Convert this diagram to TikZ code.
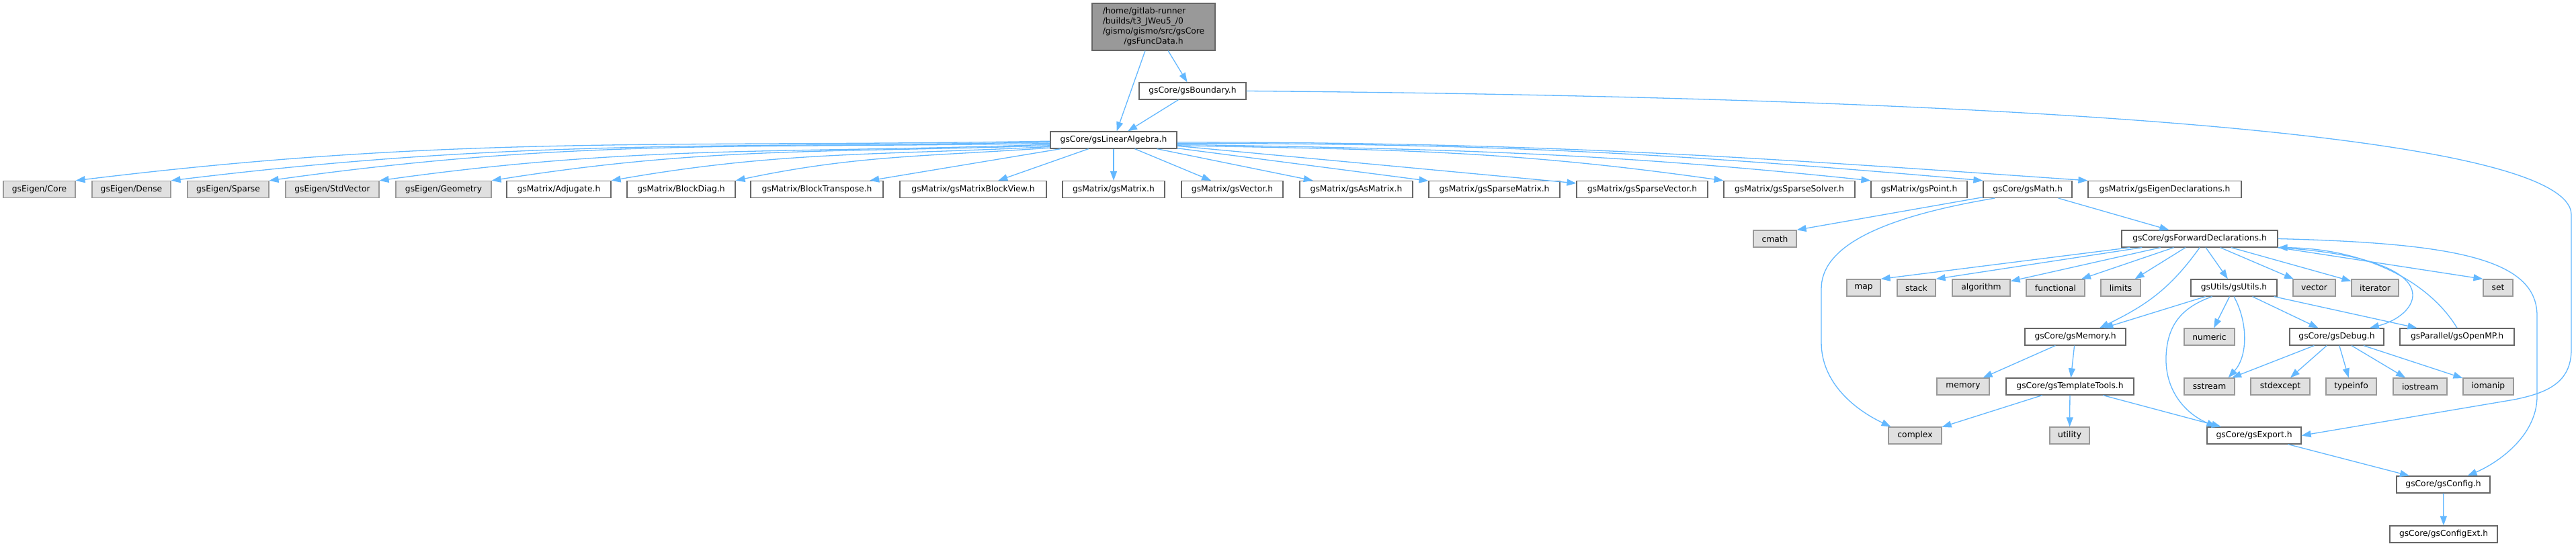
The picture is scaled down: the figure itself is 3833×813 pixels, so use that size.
\documentclass[tikz,border=0pt]{standalone}
\usepackage{fontspec}
\newfontfamily\dejavu{DejaVu Sans}
\usetikzlibrary{arrows.meta}
\definecolor{edgeblue}{HTML}{63B8FF}
\definecolor{boxline}{HTML}{666666}
\definecolor{sysline}{HTML}{999999}
\definecolor{sysfill}{HTML}{E0E0E0}
\definecolor{rootfill}{HTML}{999999}
\newcommand\gfont{\dejavu\fontsize{12.3}{14.8}\selectfont}
\tikzset{
  hdr/.style={draw=boxline, fill=white, line width=1.2pt, inner sep=0pt, minimum height=25pt, font=\gfont},
  sys/.style={hdr, draw=sysline, fill=sysfill},
  inc/.style={draw=edgeblue, line width=1.3pt, -{Triangle[length=14pt,width=10pt]}},
}
\begin{document}
\begin{tikzpicture}[x=1pt,y=1pt]
  \useasboundingbox[fill=white] (0,0) rectangle (3833,-813);
  % top of the graph
  \node[hdr, fill=rootfill, minimum width=183pt, minimum height=70pt] (root) at (1716.5,-40)
    {\begin{tabular}{@{}l@{}}/home/gitlab-runner\\/builds/t3\_JWeu5\_/0\\/gismo/gismo/src/gsCore\\\multicolumn{1}{@{}c@{}}{/gsFuncData.h}\end{tabular}};
  \node[hdr, minimum width=159pt] (bnd) at (1774.5,-135.5) {gsCore/gsBoundary.h};
  \node[hdr, minimum width=188pt] (la) at (1657,-208.5) {gsCore/gsLinearAlgebra.h};
  % row of linear algebra headers
  \node[sys, minimum width=107pt] (eCore) at (58.5,-282) {gsEigen/Core};
  \node[sys, minimum width=117pt] (eDense) at (195.5,-282) {gsEigen/Dense};
  \node[sys, minimum width=121pt] (eSparse) at (339.5,-282) {gsEigen/Sparse};
  \node[sys, minimum width=139pt] (eStdVec) at (494.5,-282) {gsEigen/StdVector};
  \node[sys, minimum width=142pt] (eGeom) at (660,-282) {gsEigen/Geometry};
  \node[hdr, minimum width=155pt] (adjugate) at (831.5,-282) {gsMatrix/Adjugate.h};
  \node[hdr, minimum width=161pt] (blockDiag) at (1013.5,-282) {gsMatrix/BlockDiag.h};
  \node[hdr, minimum width=197pt] (blockTr) at (1215.5,-282) {gsMatrix/BlockTranspose.h};
  \node[hdr, minimum width=218pt] (blockView) at (1448,-282) {gsMatrix/gsMatrixBlockView.h};
  \node[hdr, minimum width=152pt] (matrix) at (1657,-282) {gsMatrix/gsMatrix.h};
  \node[hdr, minimum width=151pt] (vector) at (1833.5,-282) {gsMatrix/gsVector.h};
  \node[hdr, minimum width=168pt] (asMatrix) at (2018,-282) {gsMatrix/gsAsMatrix.h};
  \node[hdr, minimum width=195pt] (spMatrix) at (2223.5,-282) {gsMatrix/gsSparseMatrix.h};
  \node[hdr, minimum width=195pt] (spVector) at (2443.5,-282) {gsMatrix/gsSparseVector.h};
  \node[hdr, minimum width=195pt] (spSolver) at (2662.5,-282) {gsMatrix/gsSparseSolver.h};
  \node[hdr, minimum width=143pt] (point) at (2855.5,-282) {gsMatrix/gsPoint.h};
  \node[hdr, minimum width=132pt] (math) at (3017,-282) {gsCore/gsMath.h};
  \node[hdr, minimum width=228pt] (eigDecl) at (3221,-282) {gsMatrix/gsEigenDeclarations.h};
  % forward declarations and below
  \node[sys, minimum width=64pt] (cmath) at (2641,-355.5) {cmath};
  \node[hdr, minimum width=232pt] (fwd) at (3273,-355.5) {gsCore/gsForwardDeclarations.h};
  \node[sys, minimum width=50pt] (map) at (2773,-428.5) {map};
  \node[sys, minimum width=57pt] (stack) at (2851.5,-428.5) {stack};
  \node[sys, minimum width=86pt] (algorithm) at (2948,-428.5) {algorithm};
  \node[sys, minimum width=87pt] (functional) at (3058.5,-428.5) {functional};
  \node[sys, minimum width=59pt] (limits) at (3155.5,-428.5) {limits};
  \node[hdr, minimum width=128pt] (utils) at (3324,-428.5) {gsUtils/gsUtils.h};
  \node[sys, minimum width=63pt] (vectorStd) at (3443.5,-428.5) {vector};
  \node[sys, minimum width=70pt] (iterator) at (3534,-428.5) {iterator};
  \node[sys, minimum width=44pt] (set) at (3717,-428.5) {set};
  \node[hdr, minimum width=150pt] (mem) at (3088,-501.5) {gsCore/gsMemory.h};
  \node[sys, minimum width=75pt] (numeric) at (3287.5,-501.5) {numeric};
  \node[hdr, minimum width=140pt] (debug) at (3477,-501.5) {gsCore/gsDebug.h};
  \node[hdr, minimum width=170pt] (openmp) at (3656,-501.5) {gsParallel/gsOpenMP.h};
  \node[sys, minimum width=78pt] (memStd) at (2921,-575.5) {memory};
  \node[hdr, minimum width=190pt] (tmpl) at (3080,-575.5) {gsCore/gsTemplateTools.h};
  \node[sys, minimum width=75pt] (sstream) at (3287.5,-575.5) {sstream};
  \node[sys, minimum width=88pt] (stdexcept) at (3393,-575.5) {stdexcept};
  \node[sys, minimum width=75pt] (typeinfo) at (3498.5,-575.5) {typeinfo};
  \node[sys, minimum width=80pt] (iostream) at (3601,-575.5) {iostream};
  \node[sys, minimum width=75pt] (iomanip) at (3702.5,-575.5) {iomanip};
  \node[sys, minimum width=79pt] (complex) at (2849.5,-648.5) {complex};
  \node[sys, minimum width=59pt] (utility) at (3079.5,-648.5) {utility};
  \node[hdr, minimum width=140pt] (export) at (3354,-648.5) {gsCore/gsExport.h};
  \node[hdr, minimum width=139pt] (config) at (3635.5,-721.5) {gsCore/gsConfig.h};
  \node[hdr, minimum width=160pt] (configExt) at (3636,-795.5) {gsCore/gsConfigExt.h};

  % includes of the top file
  \draw[inc] (root) -- (la);
  \draw[inc] (root) -- (bnd);
  \draw[inc] (bnd) -- (la);
  \draw[inc] (bnd.east) .. controls (3000,-145) and (3826,-200) .. (3826,-320) -- (3826,-520)
    .. controls (3826,-570) and (3790,-585) .. (3741,-595) -- (export.east);
  % includes of gsLinearAlgebra.h
  \draw[inc] (la.181) .. controls +(-568,-10) and +(564,69) .. (eCore.north east);
  \draw[inc] (la.182) .. controls +(-511,-9) and +(507,62) .. (eDense.north east);
  \draw[inc] (la.183) .. controls +(-455,-8) and +(450,63) .. (eSparse.north east);
  \draw[inc] (la.184) .. controls +(-390,-14) and +(386,54) .. (eStdVec.north east);
  \draw[inc] (la.185) .. controls +(-325,-11) and +(321,51) .. (eGeom.north east);
  \draw[inc] (la.186) .. controls +(-255,-13) and +(251,44) .. (adjugate.north east);
  \draw[inc] (la.187) .. controls +(-184,-13) and +(180,38) .. (blockDiag.north east);
  \draw[inc] (la) -- (blockTr);
  \draw[inc] (la) -- (blockView);
  \draw[inc] (la) -- (matrix);
  \draw[inc] (la) -- (vector);
  \draw[inc] (la) -- (asMatrix);
  \draw[inc] (la) -- (spMatrix);
  \draw[inc] (la) -- (spVector);
  \draw[inc] (la.355) .. controls +(320,-6) and +(-317,45) .. (spSolver.north west);
  \draw[inc] (la.356) .. controls +(405,-7) and +(-403,42) .. (point.north west);
  \draw[inc] (la.357) .. controls +(470,0) and +(-468,41) .. (math.north west);
  \draw[inc] (la.358) .. controls +(530,0) and +(-529,37) .. (eigDecl.north west);
  % gsMath.h
  \draw[inc] (math) -- (cmath.north east);
  \draw[inc] (math) -- (fwd);
  \draw[inc] (math.195) .. controls (2790,-325) and (2710,-370) .. (2710,-430) -- (2710,-510)
    .. controls (2710,-570) and (2760,-610) .. (complex.160);
  % gsForwardDeclarations.h
  \draw[inc] (fwd) -- (map.north east);
  \draw[inc] (fwd) -- (stack.north east);
  \draw[inc] (fwd) -- (algorithm);
  \draw[inc] (fwd) -- (functional);
  \draw[inc] (fwd) -- (limits);
  \draw[inc] (fwd) -- (utils);
  \draw[inc] (fwd) -- (vectorStd);
  \draw[inc] (fwd) -- (iterator);
  \draw[inc] (fwd.south east) -- (set.north west);
  \draw[inc] (fwd.south) .. controls +(-44,-62) and +(68,33) .. (mem.20);
  \draw[inc] (fwd.south east) .. controls (3650,-385) and (3605,-468) .. (debug.15);
  \draw[inc] (fwd.east) .. controls (3650,-362) and (3775,-385) .. (3775,-470) -- (3775,-590)
    .. controls (3775,-650) and (3715,-690) .. (config.20);
  \draw[inc] (openmp.north) .. controls (3615,-420) and (3520,-370) .. (fwd.south east);
  % gsUtils.h
  \draw[inc] (utils) -- (mem);
  \draw[inc] (utils) -- (numeric);
  \draw[inc] (utils) -- (debug);
  \draw[inc] (utils) -- (openmp);
  \draw[inc] (utils.south) .. controls (3345,-480) and (3345,-530) .. (sstream.25);
  \draw[inc] (utils.202) .. controls (3245,-458) and (3225,-485) .. (3223,-530)
    .. controls (3221,-580) and (3250,-615) .. (export.167);
  % gsMemory.h and gsTemplateTools.h
  \draw[inc] (mem) -- (memStd);
  \draw[inc] (mem) -- (tmpl);
  \draw[inc] (tmpl) -- (complex);
  \draw[inc] (tmpl) -- (utility);
  \draw[inc] (tmpl) -- (export);
  % gsDebug.h
  \draw[inc] (debug) -- (sstream);
  \draw[inc] (debug) -- (stdexcept);
  \draw[inc] (debug) -- (typeinfo);
  \draw[inc] (debug) -- (iostream);
  \draw[inc] (debug) -- (iomanip);
  % config
  \draw[inc] (export) -- (config);
  \draw[inc] (config) -- (configExt);
\end{tikzpicture}
\end{document}
